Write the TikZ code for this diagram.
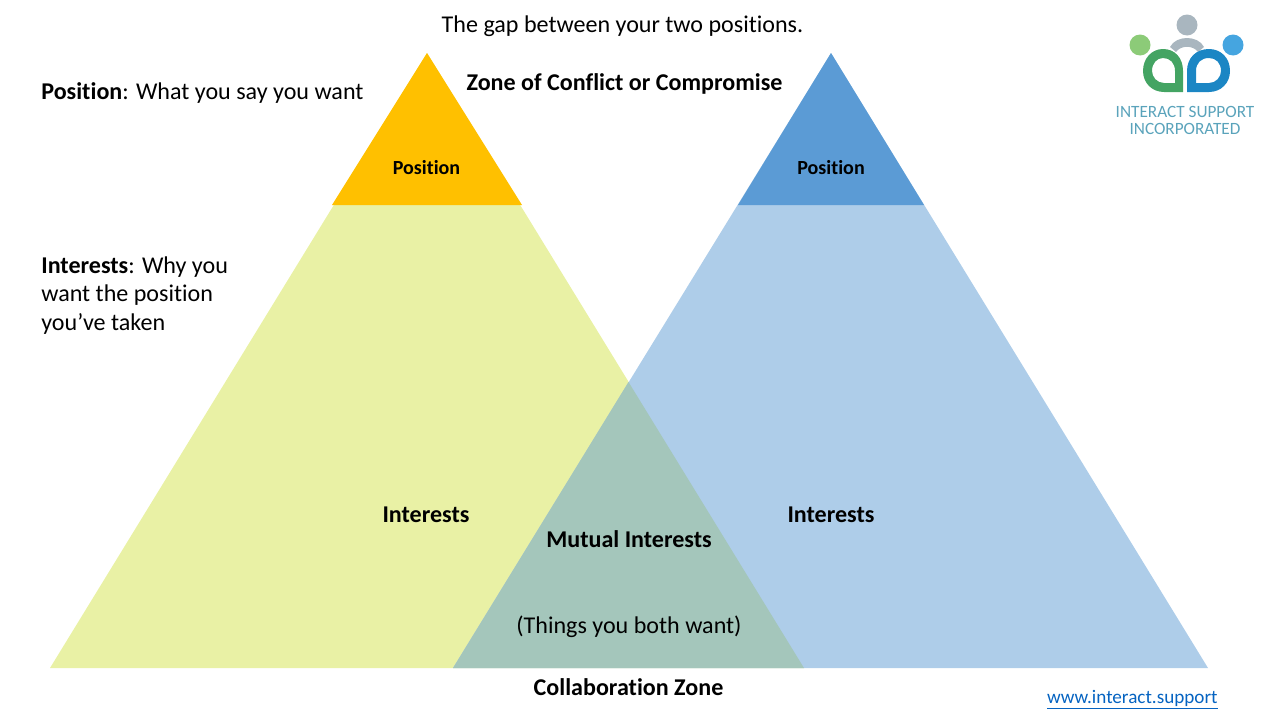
\documentclass[tikz,border=0pt]{standalone}
\usepackage{fontspec}
\setmainfont[Ligatures=CommonOff]{Carlito}
\definecolor{ambertip}{HTML}{FFC000}
\definecolor{bluetip}{HTML}{5B9BD5}
\definecolor{limebase}{HTML}{E9F1A5}
\definecolor{bluebase}{HTML}{AECDE9}
\definecolor{mutualbase}{HTML}{A4C6BB}
\definecolor{logogreen}{HTML}{44A463}
\definecolor{logoleaf}{HTML}{8CCB78}
\definecolor{logoblue}{HTML}{1B86C4}
\definecolor{logosky}{HTML}{45A5E0}
\definecolor{logogray}{HTML}{A9B6BF}
\definecolor{logotext}{HTML}{5AA3BB}
\definecolor{linkblue}{HTML}{0563C1}
\tikzset{
  label/.style={font=\fontsize{13.7}{16.4}\selectfont, text=black, inner sep=0pt, align=left},
  boldlabel/.style={label, font=\fontsize{13.7}{16.4}\selectfont\bfseries},
  tiplabel/.style={font=\fontsize{11.4}{13}\selectfont\bfseries, text=black, inner sep=0pt},
  logotxt/.style={font=\fontsize{9.8}{12}\selectfont, text=logotext, inner sep=0pt}
}
\begin{document}
\begin{tikzpicture}[x=0.02cm, y=-0.02cm]
      \useasboundingbox (0, 0) rectangle (1280, 720);
      % the two big triangles and what they share
      \fill[limebase] (427, 53) -- (804, 668) -- (50, 668) -- cycle;
      \fill[bluebase] (831, 53) -- (1208, 668) -- (453, 668) -- cycle;
      \fill[mutualbase] (628.5, 382) -- (804, 668) -- (453, 668) -- cycle;
      \fill[ambertip] (427, 53) -- (522, 205) -- (332, 205) -- cycle;
      \fill[bluetip] (831, 53) -- (924, 205) -- (738, 205) -- cycle;
      \node[tiplabel] (posL) at (426.5, 168) {Position};
      \node[tiplabel] (posR) at (831, 168) {Position};
      \node[boldlabel] (intL) at (426, 515) {Interests};
      \node[boldlabel] (intR) at (831, 515) {Interests};
      \node[boldlabel] (mutual) at (629, 539) {Mutual Interests};
      \node[label] (both) at (629, 627) {(Things you both want)};
      \node[boldlabel] (collab) at (628.5, 687.5) {Collaboration Zone};
      \node[label] (gap) at (622.5, 26) {The gap between your two positions.};
      \node[boldlabel] (zone) at (624.5, 84) {Zone of Conflict or Compromise};
      \node[label, anchor=west] (posText) at (41, 93) {\textbf{Position}: What you say you want};
      \node[label, anchor=north west] (intText) at (41, 256) {\textbf{Interests}: Why you\\want the position\\you’ve taken};
      \node[label, anchor=east, text=linkblue, font=\fontsize{10.9}{13}\selectfont] (link) at (1218, 700) {\underline{www.interact.support}};
      % logo
      \fill[logoleaf] (1140, 45) circle (10.5);
      \fill[logosky] (1233, 45) circle (10.5);
      \fill[logogray] (1187, 25) circle (10.5);
      \fill[logogray] (1170, 47) .. controls (1176, 35) and (1198, 35) .. (1204, 47) -- (1198, 52) .. controls (1193, 45) and (1181, 45) .. (1176, 52) -- cycle;
      \fill[logogreen, even odd rule] (1183, 92) -- (1164, 92) .. controls (1152, 92) and (1143, 83) .. (1143, 71) .. controls (1143, 58) and (1152, 49) .. (1163, 49) .. controls (1175, 49) and (1183, 58) .. (1183, 71) -- cycle
        (1175, 83) -- (1164, 83) .. controls (1157, 83) and (1152, 77) .. (1152, 71) .. controls (1152, 63) and (1157, 58) .. (1163, 58) .. controls (1170, 58) and (1175, 63) .. (1175, 71) -- cycle;
      \fill[logoblue, even odd rule] (1187, 92) -- (1209, 92) .. controls (1221, 92) and (1230, 83) .. (1230, 71) .. controls (1230, 58) and (1221, 49) .. (1209, 49) .. controls (1196, 49) and (1187, 58) .. (1187, 71) -- cycle
        (1196, 83) -- (1209, 83) .. controls (1216, 83) and (1221, 77) .. (1221, 71) .. controls (1221, 63) and (1216, 58) .. (1209, 58) .. controls (1201, 58) and (1196, 63) .. (1196, 71) -- cycle;
      \node[logotxt] (logoA) at (1185, 112) {INTERACT SUPPORT};
      \node[logotxt] (logoB) at (1185, 129) {INCORPORATED};
\end{tikzpicture}
\end{document}
